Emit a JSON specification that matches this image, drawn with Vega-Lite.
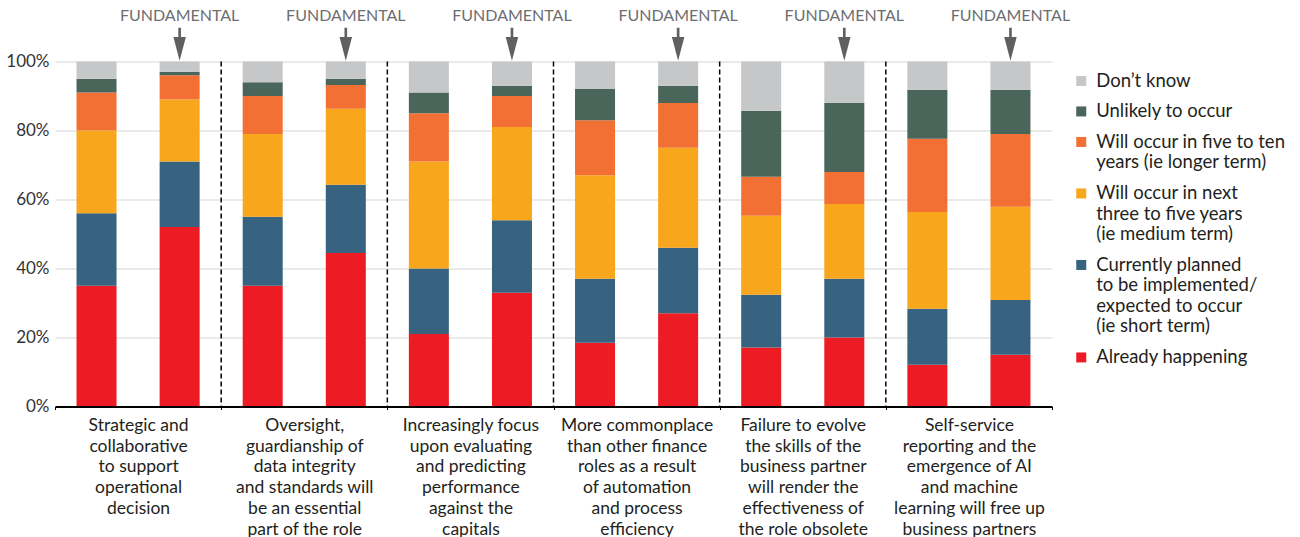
{
  "$schema": "https://vega.github.io/schema/vega-lite/v6.json",
  "width": 997,
  "height": 345,
  "autosize": {"type": "none"},
  "padding": {"left": 55, "top": 61.5, "right": 248, "bottom": 130.5},
  "background": "white",
  "config": {
    "font": "Lato",
    "view": {"stroke": null},
    "legend": {
      "orient": "none",
      "legendX": 1017,
      "legendY": 10.2,
      "padding": 0,
      "symbolType": "square",
      "symbolSize": 100,
      "symbolStrokeWidth": 0,
      "symbolOpacity": 1,
      "labelFontSize": 18.5,
      "labelLineHeight": 21.5,
      "labelColor": "#231f20",
      "labelLimit": 300,
      "labelOffset": 5.7,
      "rowPadding": 11.5,
      "labelBaseline": "top"
    }
  },
  "data": {
    "values": [
      {"group": "Strategic and collaborative to support operational decision", "type": "A", "c1": 35, "c2": 21, "c3": 24, "c4": 11, "c5": 4, "c6": 5},
      {"group": "Strategic and collaborative to support operational decision", "type": "B", "c1": 52, "c2": 19, "c3": 18, "c4": 7, "c5": 1, "c6": 3},
      {"group": "Oversight, guardianship of data integrity and standards will be an essential part of the role", "type": "A", "c1": 35, "c2": 20, "c3": 24, "c4": 11, "c5": 4, "c6": 6},
      {"group": "Oversight, guardianship of data integrity and standards will be an essential part of the role", "type": "B", "c1": 44.5, "c2": 19.8, "c3": 22, "c4": 6.9, "c5": 1.8, "c6": 5},
      {"group": "Increasingly focus upon evaluating and predicting performance against the capitals", "type": "A", "c1": 21, "c2": 19, "c3": 31, "c4": 14, "c5": 6, "c6": 9},
      {"group": "Increasingly focus upon evaluating and predicting performance against the capitals", "type": "B", "c1": 33, "c2": 21, "c3": 27, "c4": 9, "c5": 3, "c6": 7},
      {"group": "More commonplace than other finance roles as a result of automation and process efficiency", "type": "A", "c1": 18.5, "c2": 18.5, "c3": 30, "c4": 16, "c5": 9, "c6": 8},
      {"group": "More commonplace than other finance roles as a result of automation and process efficiency", "type": "B", "c1": 27, "c2": 19, "c3": 29, "c4": 13, "c5": 5, "c6": 7},
      {"group": "Failure to evolve the skills of the business partner will render the effectiveness of the role obsolete", "type": "A", "c1": 17.1, "c2": 15.3, "c3": 22.9, "c4": 11.3, "c5": 19.1, "c6": 14.3},
      {"group": "Failure to evolve the skills of the business partner will render the effectiveness of the role obsolete", "type": "B", "c1": 20, "c2": 17, "c3": 21.7, "c4": 9.3, "c5": 20, "c6": 12},
      {"group": "Self-service reporting and the emergence of AI and machine learning will free up business partners", "type": "A", "c1": 12.1, "c2": 16.2, "c3": 28.1, "c4": 21.2, "c5": 14.2, "c6": 8.2},
      {"group": "Self-service reporting and the emergence of AI and machine learning will free up business partners", "type": "B", "c1": 15, "c2": 15.9, "c3": 27, "c4": 21.1, "c5": 12.8, "c6": 8.2}
    ]
  },
  "transform": [
    {"fold": ["c1", "c2", "c3", "c4", "c5", "c6"], "as": ["k", "value"]},
    {
      "lookup": "k",
      "from": {
        "data": {
          "values": [
            {"k": "c1", "cat": "Already happening", "level": 1},
            {"k": "c2", "cat": "Currently planned to be implemented/expected to occur (ie short term)", "level": 2},
            {"k": "c3", "cat": "Will occur in next three to five years (ie medium term)", "level": 3},
            {"k": "c4", "cat": "Will occur in five to ten years (ie longer term)", "level": 4},
            {"k": "c5", "cat": "Unlikely to occur", "level": 5},
            {"k": "c6", "cat": "Don’t know", "level": 6}
          ]
        },
        "key": "k",
        "fields": ["cat", "level"]
      }
    }
  ],
  "layer": [
    {
      "mark": {"type": "bar"},
      "encoding": {
        "x": {
          "field": "group",
          "type": "nominal",
          "sort": null,
          "scale": {"paddingInner": 0, "paddingOuter": 0},
          "axis": {
            "title": null,
            "labelAngle": 0,
            "zindex": 1,
            "domainColor": "#000000",
            "domainWidth": 2,
            "tickColor": "#000000",
            "tickWidth": 1,
            "tickSize": 3,
            "tickBand": "extent",
            "labelPadding": 7,
            "labelBaseline": "top",
            "labelFontSize": 17.5,
            "labelLineHeight": 20.7,
            "labelColor": "#231f20",
            "labelLimit": 300,
            "grid": false,
            "labelExpr": "datum.value == 'Strategic and collaborative to support operational decision' ? ['Strategic and', 'collaborative', 'to support', 'operational', 'decision'] : datum.value == 'Oversight, guardianship of data integrity and standards will be an essential part of the role' ? ['Oversight,', 'guardianship of', 'data integrity', 'and standards will', 'be an essential', 'part of the role'] : datum.value == 'Increasingly focus upon evaluating and predicting performance against the capitals' ? ['Increasingly focus', 'upon evaluating', 'and predicting', 'performance', 'against the', 'capitals'] : datum.value == 'More commonplace than other finance roles as a result of automation and process efficiency' ? ['More commonplace', 'than other finance', 'roles as a result', 'of automation', 'and process', 'efficiency'] : datum.value == 'Failure to evolve the skills of the business partner will render the effectiveness of the role obsolete' ? ['Failure to evolve', 'the skills of the', 'business partner', 'will render the', 'effectiveness of', 'the role obsolete'] : datum.value == 'Self-service reporting and the emergence of AI and machine learning will free up business partners' ? ['Self-service', 'reporting and the', 'emergence of AI', 'and machine', 'learning will free up', 'business partners'] : ''"
          }
        },
        "xOffset": {
          "field": "type",
          "type": "nominal",
          "scale": {"paddingInner": 0.5185, "paddingOuter": 0.259}
        },
        "y": {
          "field": "value",
          "type": "quantitative",
          "stack": "zero",
          "scale": {"domain": [0, 100], "nice": false},
          "axis": {
            "title": null,
            "values": [0, 20, 40, 60, 80, 100],
            "labelExpr": "datum.value + '%'",
            "domain": false,
            "ticks": false,
            "grid": true,
            "gridColor": "#e3e3e3",
            "gridWidth": 1.5,
            "labelPadding": 6,
            "labelFontSize": 17,
            "labelColor": "#333333"
          }
        },
        "color": {
          "field": "cat",
          "type": "nominal",
          "scale": {
            "domain": ["Don’t know", "Unlikely to occur", "Will occur in five to ten years (ie longer term)", "Will occur in next three to five years (ie medium term)", "Currently planned to be implemented/expected to occur (ie short term)", "Already happening"],
            "range": ["#c6c7c9", "#4a655a", "#f27033", "#f8a61b", "#376380", "#ed1c24"]
          },
          "legend": {
            "title": null,
            "labelExpr": "datum.label == 'Will occur in five to ten years (ie longer term)' ? ['Will occur in five to ten', 'years (ie longer term)'] : datum.label == 'Will occur in next three to five years (ie medium term)' ? ['Will occur in next', 'three to five years', '(ie medium term)'] : datum.label == 'Currently planned to be implemented/expected to occur (ie short term)' ? ['Currently planned', 'to be implemented/', 'expected to occur', '(ie short term)'] : datum.label",
            "encode": {"labels": {"update": {"dy": {"value": -9.1}}}}
          }
        },
        "order": {"field": "level", "type": "quantitative", "sort": "ascending"}
      }
    },
    {
      "transform": [{"filter": "datum.type == 'A' && datum.k == 'c1' && datum.group != 'Strategic and collaborative to support operational decision'"}],
      "mark": {"type": "rule", "color": "#000000", "strokeDash": [5, 3], "strokeWidth": 1.5},
      "encoding": {
        "x": {"field": "group", "type": "nominal", "sort": null, "bandPosition": 0}
      }
    },
    {
      "transform": [{"filter": "datum.type == 'B' && datum.k == 'c1'"}],
      "mark": {"type": "text", "text": "FUNDAMENTAL", "fontSize": 16, "color": "#6d6e71", "align": "center", "baseline": "middle"},
      "encoding": {
        "x": {"field": "group", "type": "nominal", "sort": null},
        "xOffset": {"field": "type", "type": "nominal"},
        "y": {"datum": 113.2, "type": "quantitative"}
      }
    },
    {
      "transform": [{"filter": "datum.type == 'B' && datum.k == 'c1'"}],
      "mark": {"type": "point", "shape": "M-0.11,-1.375L0.11,-1.375L0.11,-0.6L0.52,-0.6L0,1.375L-0.52,-0.6L-0.11,-0.6Z", "size": 576, "filled": true, "color": "#5f6062", "opacity": 1, "strokeWidth": 0},
      "encoding": {
        "x": {"field": "group", "type": "nominal", "sort": null},
        "xOffset": {"field": "type", "type": "nominal"},
        "y": {"datum": 105.0, "type": "quantitative"}
      }
    }
  ]
}
